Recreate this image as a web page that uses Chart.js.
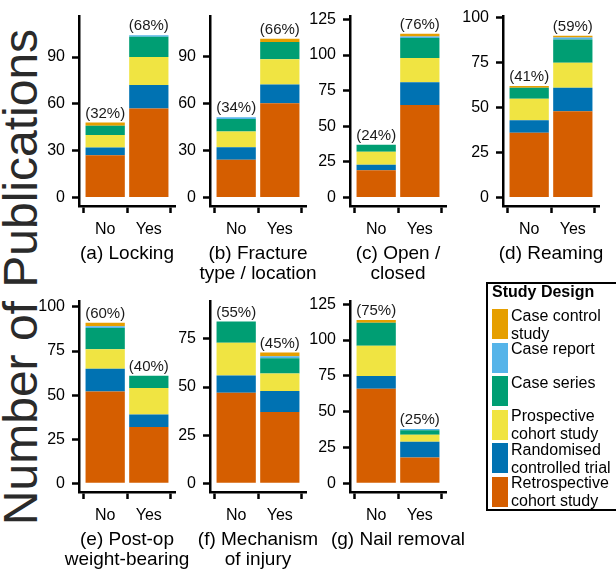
<!DOCTYPE html>
<html>
<head>
<meta charset="utf-8">
<script src="https://cdn.jsdelivr.net/npm/chart.js@4.4.1/dist/chart.umd.min.js"></script>
<style>
  html, body { margin: 0; padding: 0; background: #fff; }
  body { width: 616px; height: 572px; position: relative; overflow: hidden;
         font-family: "Liberation Sans", Arial, sans-serif; color: #000; }
  canvas { position: absolute; }
  #ytitle { position: absolute; left: 21px; top: 277px; font-size: 48px; color: #2a2a2a;
            white-space: nowrap; transform: translate(-50%, -50%) rotate(-90deg); line-height: 1; }
  #legendBox { position: absolute; left: 486px; top: 282px; width: 150px; height: 229px;
               border: 2px solid #000; box-sizing: border-box; }
  .lg-title { position: absolute; left: 492px; top: 283px; font-size: 16px; font-weight: bold; line-height: 18px; }
  .lg-key { position: absolute; left: 492px; width: 16px; height: 30px; }
  .lg-text { position: absolute; left: 511px; font-size: 16px; line-height: 18px; white-space: pre; }
</style>
</head>
<body>
<div id="ytitle">Number of Publications</div>
<div id="legendBox"></div>

<script>
// ── Data ──────────────────────────────────────────────────────────
const groups = ["No", "Yes"];
const panelTitles = [
  ["(a) Locking"],
  ["(b) Fracture", "type / location"],
  ["(c) Open /", "closed"],
  ["(d) Reaming"],
  ["(e) Post-op", "weight-bearing"],
  ["(f) Mechanism", "of injury"],
  ["(g) Nail removal"]
];

// one [No, Yes] pair per panel, panels a..g
const retrospective = [[27, 57], [24, 60], [19, 65], [36, 48], [52, 32], [47, 37], [66, 18]];
const randomised    = [[5, 15],  [8, 12],  [4, 16],  [7, 13],  [13, 7],  [9, 11],  [9, 11]];
const prospective   = [[8, 18],  [10, 16], [9, 17],  [12, 14], [11, 15], [17, 9],  [21, 5]];
const caseSeries    = [[6, 13],  [8, 11],  [5, 14],  [6, 13],  [12, 7],  [11, 8],  [16, 3]];
const caseReport    = [[0, 1],   [1, 0],   [0, 1],   [0, 1],   [1, 0],   [0, 1],   [0, 1]];
const caseControl   = [[2, 0],   [0, 2],   [0, 2],   [1, 1],   [2, 0],   [0, 2],   [2, 0]];

// y axis: top of plotted range (bar + label) and tick step, per panel
const yTop  = [110.4, 109.7, 121, 95.9, 98.1, 89.9, 120.8];
const yStep = [30, 30, 25, 25, 25, 25, 25];

// stacking order bottom -> top
const series = [retrospective, randomised, prospective, caseSeries, caseReport, caseControl];
const designLabels = ["Retrospective\ncohort study", "Randomised\ncontrolled trial", "Prospective\ncohort study",
                      "Case series", "Case report", "Case control\nstudy"];
const designColors = ["#D55E00", "#0072B2", "#F0E442", "#009E73", "#56B4E9", "#E69F00"];

// ── Layout ────────────────────────────────────────────────────────
const axisLeft   = [79, 210, 350, 503, 79, 210, 350];
const areaTop    = [15, 15, 15, 15, 300, 300, 300];
const areaHeight = [191, 191, 191, 191, 192, 192, 192];
const areaWidth  = 96;
const yAxisW = 50, xAxisH = 80, padTop = 15, padRight = 50;

Chart.defaults.font.family = "'Liberation Sans', Arial, sans-serif";
Chart.defaults.color = "#000";

function panelPlugin(i) {
  return {
    id: "panelText" + i,
    afterDatasetsDraw(chart) {
      const { ctx, scales: { x, y } } = chart;
      const totals = groups.map((g, j) => series.reduce((s, arr) => s + arr[i][j], 0));
      const grand = totals[0] + totals[1];
      ctx.save();
      ctx.fillStyle = "#1a1a1a";
      ctx.font = "15px 'Liberation Sans', Arial, sans-serif";
      ctx.textAlign = "center";
      ctx.textBaseline = "middle";
      totals.forEach((t, j) => {
        const pct = Math.round(100 * t / grand);
        ctx.fillText("(" + pct + "%)", x.getPixelForValue(j + 1), y.getPixelForValue(t) - 9);
      });
      // panel caption under the x axis
      const a = chart.chartArea;
      ctx.fillStyle = "#000";
      ctx.font = "19px 'Liberation Sans', Arial, sans-serif";
      panelTitles[i].forEach((line, k) => {
        ctx.fillText(line, (a.left + a.right) / 2, a.bottom + 48 + k * 19.3);
      });
      ctx.restore();
    }
  };
}

panelTitles.forEach((title, i) => {
  const cv = document.createElement("canvas");
  const w = yAxisW + areaWidth + padRight;
  const h = padTop + areaHeight[i] + xAxisH;
  cv.width = w; cv.height = h;
  cv.style.left = (axisLeft[i] - yAxisW) + "px";
  cv.style.top = (areaTop[i] - padTop) + "px";
  cv.style.width = w + "px"; cv.style.height = h + "px";
  document.body.appendChild(cv);

  const yMax = yTop[i] * 1.05, yMin = -yTop[i] * 0.05;

  new Chart(cv, {
    type: "bar",
    data: {
      datasets: series.map((s, k) => ({
        label: designLabels[k],
        data: groups.map((g, j) => ({ x: j + 1, y: s[i][j] })),
        backgroundColor: designColors[k],
        borderWidth: 0,
        barPercentage: 0.9,
        categoryPercentage: 1
      }))
    },
    options: {
      responsive: false,
      animation: false,
      layout: { padding: { top: padTop, right: padRight, left: 0, bottom: 0 } },
      plugins: { legend: { display: false }, tooltip: { enabled: false } },
      scales: {
        x: {
          type: "linear", min: 0.4, max: 2.6, stacked: true, offset: false,
          afterBuildTicks: sc => { sc.ticks = groups.map((g, j) => ({ value: j + 1 })); },
          afterFit: sc => { sc.height = xAxisH; },
          ticks: { callback: v => groups[v - 1], font: { size: 16 }, padding: 7,
                   maxRotation: 0, autoSkip: false, color: "#000" },
          grid: { display: true, drawOnChartArea: false, drawTicks: true, tickLength: 7,
                  tickWidth: 2.5, tickColor: "#000" },
          border: { display: true, color: "#000", width: 2.5 }
        },
        y: {
          min: yMin, max: yMax, stacked: true,
          afterBuildTicks: sc => {
            const t = [];
            for (let v = 0; v <= yMax; v += yStep[i]) t.push({ value: v });
            sc.ticks = t;
          },
          afterFit: sc => { sc.width = yAxisW; },
          ticks: { callback: v => String(v), font: { size: 16 }, padding: 7, color: "#000" },
          grid: { display: true, drawOnChartArea: false, drawTicks: true, tickLength: 7,
                  tickWidth: 2.5, tickColor: "#000" },
          border: { display: true, color: "#000", width: 2.5 }
        }
      }
    },
    plugins: [panelPlugin(i)]
  });
});

// ── Legend (top entry = top of stack) ─────────────────────────────
const lgTitle = document.createElement("div");
lgTitle.className = "lg-title";
lgTitle.textContent = "Study Design";
document.body.appendChild(lgTitle);
designLabels.slice().reverse().forEach((lab, r) => {
  const k = designLabels.length - 1 - r;
  const top = 309 + r * 33.5;
  const key = document.createElement("div");
  key.className = "lg-key";
  key.style.top = top + "px";
  key.style.background = designColors[k];
  const txt = document.createElement("div");
  txt.className = "lg-text";
  txt.style.top = (top - 2.5) + "px";
  txt.textContent = lab;
  document.body.appendChild(key);
  document.body.appendChild(txt);
});
</script>
</body>
</html>
